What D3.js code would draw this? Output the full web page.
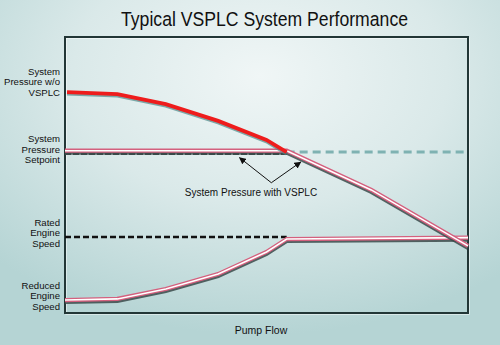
<!DOCTYPE html>
<html><head><meta charset="utf-8">
<script src="https://cdn.jsdelivr.net/npm/d3@7"></script>
<style>html,body{margin:0;padding:0;background:#d6e7e7;}svg{display:block;}</style>
</head><body>
<div id="chart"></div>
<script>
// Data (x = pump flow 0..100, y = relative level 0..100)
const pressureNoVsplcX = [0.5, 13, 25, 38, 50, 55];
const pressureNoVsplcY = [80, 79.3, 75.7, 69.6, 62.7, 58.3];
const pressureVsplcX = [0, 55, 76, 100];
const pressureVsplcY = [58.8, 58.8, 44.6, 24.3];
const setpointLevel = [57.6];
const setpointExtX = [55, 100];
const engineSpeedX = [0, 13, 25, 38, 50, 55, 100];
const engineSpeedY = [4.7, 5.1, 8.7, 14.1, 22.1, 26.8, 27.3];
const ratedSpeedLevel = [27.5];
const ratedSpeedX = [0, 55];
const leftLabels = [
  {lines: ["System", "Pressure w/o", "VSPLC"], y: 83.7},
  {lines: ["System", "Pressure", "Setpoint"], y: 59.4},
  {lines: ["Rated", "Engine", "Speed"], y: 29.0},
  {lines: ["Reduced", "Engine", "Speed"], y: 6.2}
];
const titleText = "Typical VSPLC System Performance";
const xAxisTitle = "Pump Flow";
const annotText = "System Pressure with VSPLC";
const annotAnchor = {x: 51.2, y: 47.2};
const annotTargets = [{x: 43.3, y: 56.3}, {x: 58.5, y: 54.7}];

const W = 500, H = 345;
const L = 65, R = 468, T = 37, B = 313;
const svg = d3.select("#chart").append("svg").attr("width", W).attr("height", H);
const defs = svg.append("defs");

const bg = defs.append("radialGradient").attr("id", "bg").attr("cx", "52%").attr("cy", "22%").attr("r", "75%");
bg.append("stop").attr("offset", "0%").attr("stop-color", "#f0f6f6");
bg.append("stop").attr("offset", "50%").attr("stop-color", "#dae9e9");
bg.append("stop").attr("offset", "100%").attr("stop-color", "#b5d4d4");
svg.append("rect").attr("width", W).attr("height", H).attr("fill", "url(#bg)");

const x = d3.scaleLinear().domain([0, 100]).range([L, R]);
const y = d3.scaleLinear().domain([0, 100]).range([B, T]);
const line = d3.line().x(d => x(d[0])).y(d => y(d[1]));

// frame
svg.append("rect").attr("x", L + 1).attr("y", T + 1).attr("width", R - L).attr("height", B - T)
  .attr("fill", "none").attr("stroke", "#ffffff").attr("stroke-width", 1.2).attr("opacity", 0.8);
svg.append("rect").attr("x", L).attr("y", T).attr("width", R - L).attr("height", B - T)
  .attr("fill", "none").attr("stroke", "#223636").attr("stroke-width", 2);

// helper for the pink/white double line with shadow
function fancyLine(pts) {
  const d = line(pts);
  svg.append("path").attr("d", d).attr("fill", "none").attr("stroke", "#3b4a4a")
    .attr("stroke-width", 4).attr("transform", "translate(0,2)").attr("opacity", 0.85);
  svg.append("path").attr("d", d).attr("fill", "none").attr("stroke", "#d4607e").attr("stroke-width", 4.2);
  svg.append("path").attr("d", d).attr("fill", "none").attr("stroke", "#ffffff").attr("stroke-width", 1.6);
}

// setpoint dashed (dark) below pressure line
svg.append("path").attr("d", line([[0, setpointLevel[0]], [55, setpointLevel[0]]]))
  .attr("fill", "none").attr("stroke", "#3a4848").attr("stroke-width", 2).attr("stroke-dasharray", "6,2");
// teal dashed extension
svg.append("path").attr("d", line(setpointExtX.map(v => [v, 58.3])))
  .attr("fill", "none").attr("stroke", "#7fb2b2").attr("stroke-width", 3).attr("stroke-dasharray", "8,5");

// rated engine speed dashed
svg.append("path").attr("d", line(ratedSpeedX.map(v => [v, ratedSpeedLevel[0]])))
  .attr("fill", "none").attr("stroke", "#111").attr("stroke-width", 2.5).attr("stroke-dasharray", "6,3");

// engine speed line
fancyLine(engineSpeedX.map((v, i) => [v, engineSpeedY[i]]));

// pressure w/ VSPLC
fancyLine(pressureVsplcX.map((v, i) => [v, pressureVsplcY[i]]));

// pressure w/o VSPLC (red)
const redPts = pressureNoVsplcX.map((v, i) => [v, pressureNoVsplcY[i]]);
svg.append("path").attr("d", line(redPts)).attr("fill", "none").attr("stroke", "#4f8a8a")
  .attr("stroke-width", 3.8).attr("transform", "translate(0,1.5)").attr("opacity", 0.7);
svg.append("path").attr("d", line(redPts)).attr("fill", "none").attr("stroke", "#ee1c1c").attr("stroke-width", 3.8);

// arrows
defs.append("marker").attr("id", "arr").attr("viewBox", "0 0 10 10").attr("refX", 9).attr("refY", 5)
  .attr("markerWidth", 7).attr("markerHeight", 7).attr("orient", "auto-start-reverse")
  .append("path").attr("d", "M0,0 L10,5 L0,10 z").attr("fill", "#111");
annotTargets.forEach(t => {
  svg.append("line").attr("x1", x(annotAnchor.x)).attr("y1", y(annotAnchor.y))
    .attr("x2", x(t.x)).attr("y2", y(t.y)).attr("stroke", "#111").attr("stroke-width", 1)
    .attr("marker-end", "url(#arr)");
});
svg.append("text").attr("x", 251).attr("y", 196)
  .attr("text-anchor", "middle").attr("font-family", "Liberation Sans, Arial, sans-serif")
  .attr("font-size", 10).attr("fill", "#111").text(annotText);

// left labels
leftLabels.forEach(lb => {
  lb.lines.forEach((s, i) => {
    svg.append("text").attr("text-anchor", "end").attr("font-family", "Liberation Sans, Arial, sans-serif")
      .attr("font-size", 9.6).attr("fill", "#111")
      .attr("x", 60).attr("y", y(lb.y) + (i - 1) * 10.8 + 3.5).text(s);
  });
});

// title
svg.append("text").attr("x", 121).attr("y", 26)
  .attr("font-family", "Liberation Sans, Arial, sans-serif").attr("font-size", 20.5).attr("fill", "#111")
  .attr("textLength", 287).attr("lengthAdjust", "spacingAndGlyphs")
  .text(titleText);

// x axis title
svg.append("text").attr("x", 261).attr("y", 334).attr("text-anchor", "middle")
  .attr("font-family", "Liberation Sans, Arial, sans-serif").attr("font-size", 10.5).attr("fill", "#111")
  .text(xAxisTitle);
</script>
</body></html>
